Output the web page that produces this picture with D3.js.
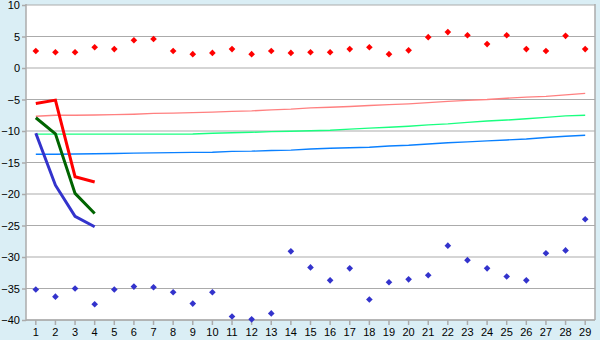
<!DOCTYPE html>
<html lang="en">
  <head>
    <meta charset="UTF-8" />
    <title>Chart</title>
    <style>
      body { margin: 0; background: #daeef5; }
      text { font-family: "Liberation Sans", Arial, sans-serif; font-size: 11px; fill: #000; }
      .grid line { stroke: #ababab; stroke-width: 1.2px; }
      .axis path, .axis line { stroke: #ababab; stroke-width: 1.5px; }
      .trend { fill: none; stroke-width: 1.4px; }
      .thick { fill: none; stroke-width: 3px; }
    </style>
  </head>
  <body>
    <script src="https://cdn.jsdelivr.net/npm/d3@7"></script>
    <script>
      var categories = d3.range(1, 30);
      var yTicks = [-40, -35, -30, -25, -20, -15, -10, -5, 0, 5, 10];

      // scattered points
      var redPoints = [2.7, 2.5, 2.5, 3.3, 3.0, 4.4, 4.6, 2.7, 2.2, 2.4, 3.0, 2.2, 2.7, 2.4, 2.5,
                       2.5, 3.0, 3.3, 2.2, 2.8, 4.9, 5.7, 5.2, 3.8, 5.2, 3.0, 2.7, 5.1, 3.0];
      var bluePoints = [-35.15, -36.3, -35.0, -37.5, -35.15, -34.7, -34.8, -35.6, -37.4, -35.6,
                        -39.45, -39.9, -38.95, -29.1, -31.65, -33.7, -31.8, -36.75, -34.0, -33.55,
                        -32.9, -28.2, -30.5, -31.8, -33.1, -33.7, -29.4, -28.95, -24.0];

      // thick lines (first four categories)
      var redLine = [-5.65, -5.1, -17.25, -18.1];
      var greenLine = [-7.9, -10.45, -19.9, -23.1];
      var blueLine = [-10.35, -18.6, -23.55, -25.2];

      // thin trend lines
      var pinkTrend = [-7.65, -7.5, -7.49, -7.47, -7.4, -7.33, -7.2, -7.17, -7.09, -7.0, -6.88, -6.8,
                       -6.65, -6.53, -6.33, -6.22, -6.12, -5.96, -5.82, -5.69, -5.5, -5.29, -5.14,
                       -5.0, -4.79, -4.63, -4.5, -4.26, -4.02];
      var greenTrend = [-10.5, -10.5, -10.5, -10.5, -10.5, -10.5, -10.5, -10.5, -10.47, -10.35,
                        -10.27, -10.2, -10.1, -10.03, -9.95, -9.87, -9.71, -9.55, -9.4, -9.24, -9.03,
                        -8.87, -8.63, -8.42, -8.26, -8.06, -7.84, -7.6, -7.49];
      var blueTrend = [-13.69, -13.68, -13.64, -13.6, -13.56, -13.51, -13.48, -13.43, -13.39, -13.37,
                       -13.23, -13.2, -13.09, -13.04, -12.86, -12.74, -12.66, -12.57, -12.38, -12.26,
                       -12.06, -11.87, -11.73, -11.57, -11.42, -11.28, -11.03, -10.84, -10.68];

      var w = 600, h = 340;
      var margin = { top: 5, right: 5, bottom: 20, left: 26 };

      var svg = d3.select("body").append("svg")
        .attr("width", w)
        .attr("height", h);

      var pw = w - margin.left - margin.right,
          ph = h - margin.top - margin.bottom;

      var xScale = d3.scaleBand()
        .domain(categories)
        .range([margin.left, margin.left + pw])
        .paddingInner(0)
        .paddingOuter(0);

      var yScale = d3.scaleLinear()
        .domain([-40, 10])
        .range([margin.top + ph, margin.top]);

      function cx(i) { return xScale(categories[i]) + xScale.bandwidth() / 2; }

      // plot background
      svg.append("rect")
        .attr("x", margin.left)
        .attr("y", margin.top)
        .attr("width", pw)
        .attr("height", ph)
        .attr("fill", "#fff");

      // gridlines
      svg.append("g")
        .attr("class", "grid")
        .selectAll("line")
        .data(yTicks)
        .enter()
        .append("line")
        .attr("x1", margin.left)
        .attr("x2", margin.left + pw)
        .attr("y1", function(d) { return yScale(d); })
        .attr("y2", function(d) { return yScale(d); });

      // right border
      svg.append("line")
        .attr("x1", margin.left + pw).attr("x2", margin.left + pw)
        .attr("y1", margin.top - 1).attr("y2", margin.top + ph)
        .attr("stroke", "#ababab").attr("stroke-width", 1.5);

      var yAxis = d3.axisLeft(yScale)
        .tickValues(yTicks)
        .tickSize(4)
        .tickPadding(2)
        .tickFormat(function(d) { return d < 0 ? "\u2212" + Math.abs(d) : d; });

      svg.append("g")
        .attr("class", "axis")
        .attr("transform", "translate(" + margin.left + ",0)")
        .call(yAxis)
        .call(function(g) { g.select(".domain").remove(); })
        .selectAll("text")
        .attr("dy", "0.36em");

      svg.append("line")
        .attr("x1", margin.left).attr("x2", margin.left)
        .attr("y1", margin.top - 1).attr("y2", margin.top + ph + 1)
        .attr("stroke", "#ababab").attr("stroke-width", 1.5);

      var xAxis = d3.axisBottom(xScale)
        .tickSize(5)
        .tickPadding(3)
        .tickSizeOuter(0);

      svg.append("g")
        .attr("class", "axis")
        .attr("transform", "translate(0," + (margin.top + ph) + ")")
        .call(xAxis)
        .call(function(g) { g.select(".domain").remove(); })
        .selectAll("text")
        .attr("dy", "0.71em");

      svg.append("line")
        .attr("x1", margin.left).attr("x2", margin.left + pw)
        .attr("y1", margin.top + ph).attr("y2", margin.top + ph)
        .attr("stroke", "#ababab").attr("stroke-width", 1.5);

      var line = d3.line()
        .x(function(d, i) { return cx(i); })
        .y(function(d) { return yScale(d); });

      // trend lines
      var trends = [[pinkTrend, "#ff8080"], [greenTrend, "#1aff80"], [blueTrend, "#0a80ff"]];
      trends.forEach(function(t) {
        svg.append("path")
          .datum(t[0])
          .attr("class", "trend")
          .attr("stroke", t[1])
          .attr("d", line);
      });

      // thick lines
      var thick = [[redLine, "#ff0000"], [greenLine, "#006400"], [blueLine, "#3333cc"]];
      thick.forEach(function(t) {
        svg.append("path")
          .datum(t[0])
          .attr("class", "thick")
          .attr("stroke", t[1])
          .attr("d", line);
      });

      // markers
      var diamond = d3.symbol().type(d3.symbolSquare).size(22);
      var markers = [[redPoints, "#ff0000"], [bluePoints, "#3333cc"]];
      markers.forEach(function(m) {
        svg.append("g")
          .selectAll("path")
          .data(m[0])
          .enter()
          .append("path")
          .attr("d", diamond)
          .attr("fill", m[1])
          .attr("transform", function(d, i) {
            return "translate(" + cx(i) + "," + yScale(d) + ") rotate(45)";
          });
      });
    </script>
  </body>
</html>
